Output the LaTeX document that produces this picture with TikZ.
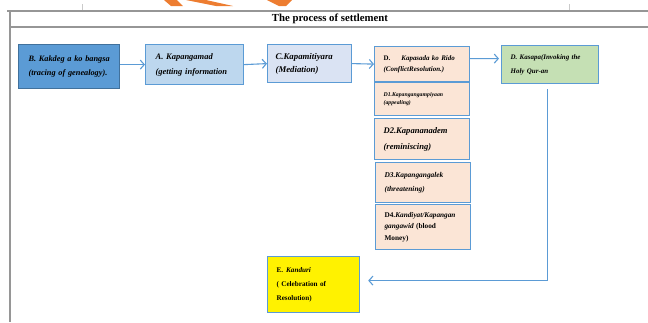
\documentclass[tikz,border=0pt]{standalone}
\usepackage{fontspec}
\setmainfont{Liberation Serif}
\usetikzlibrary{arrows.meta}
\definecolor{midblue}{RGB}{91,155,213}
\definecolor{darkblue}{RGB}{65,113,156}
\definecolor{paleblue}{RGB}{189,215,238}
\definecolor{lavender}{RGB}{218,227,243}
\definecolor{peach}{RGB}{251,229,214}
\definecolor{palegreen}{RGB}{197,224,180}
\definecolor{rulegrey}{RGB}{150,150,150}
\definecolor{accent}{RGB}{237,125,49}
\newcommand{\fs}[2]{\fontsize{#1}{#2}\selectfont}

\begin{document}
\begin{tikzpicture}[x=1bp, y=-1bp,
    stage/.style={draw=midblue, line width=1.2bp, anchor=north west, align=left,
        inner ysep=0pt, font=\bfseries\itshape},
    arr/.style={midblue, line width=1.1bp, -{Straight Barb[length=4bp,width=9bp]}}]
    \useasboundingbox (0,0) rectangle (648,322);
    % Table rules and header
    \fill[accent] (164,0) -- (177,0) -- (183,6) -- (171,6) -- cycle;
    \fill[accent] (186,0) -- (206,0) -- (233,6) -- (216,6) -- cycle;
    \fill[accent] (267,0) -- (292,0) -- (286,6) -- (279,6) -- cycle;
    \draw[rulegrey!50] (82,4) -- (82,11) (569,4) -- (569,11);
    \draw[rulegrey, line width=1.4bp] (7,11) -- (648,11);
    \draw[rulegrey, line width=1.4bp] (10,27) -- (648,27);
    \draw[rulegrey, line width=1.4bp] (10,11) -- (10,322);
    \node[font=\bfseries\fs{10.8}{12}] (title) at (330,19) {The process of settlement};
    % Main row
    \node[stage, draw=darkblue, fill=midblue, minimum width=101bp, minimum height=44bp,
        inner xsep=8bp, text width=85bp, font=\bfseries\itshape\fs{8.3}{14}]
        (b) at (18,44) {\hspace*{2bp}B. Kakdeg a ko bangsa\\\hspace*{2bp}(tracing of genealogy).};
    \node[stage, fill=paleblue, minimum width=98bp, minimum height=40bp,
        inner xsep=10bp, text width=78bp, font=\bfseries\itshape\fs{8.5}{15}]
        (a) at (145,44) {A. Kapangamad\\(getting information};
    \node[stage, fill=lavender, minimum width=84bp, minimum height=38bp,
        inner xsep=8bp, text width=68bp, font=\bfseries\itshape\fs{8.8}{13}]
        (c) at (267,44) {C.Kapamitiyara\\(Mediation)};
    \node[stage, fill=peach, minimum width=95bp, minimum height=35bp,
        inner xsep=9bp, text width=77bp, font=\bfseries\itshape\fs{7}{11}]
        (d) at (374,46) {\upshape D.\hspace{11bp}\itshape Kapasada ko Rido\\(ConflictResolution.)};
    \node[stage, fill=palegreen, minimum width=97bp, minimum height=38bp,
        inner xsep=9bp, text width=79bp, font=\bfseries\itshape\fs{7}{14}]
        (kasapa) at (501,45) {D. Kasapa(Invoking the\\Holy Qur-an};
    % Steps under D
    \node[stage, fill=peach, minimum width=95bp, minimum height=33bp,
        inner xsep=9bp, text width=77bp, font=\bfseries\itshape\fs{5.8}{9}]
        (d1) at (374,82) {D1.Kapangangampiyaan\\(appealing)};
    \node[stage, fill=peach, minimum width=95bp, minimum height=41bp,
        inner xsep=9bp, text width=77bp, font=\bfseries\itshape\fs{8.6}{16}]
        (d2) at (374,118) {D2.Kapananadem\\(reminiscing)};
    \node[stage, fill=peach, minimum width=95bp, minimum height=40bp,
        inner xsep=9bp, text width=77bp, font=\bfseries\itshape\fs{7.4}{14}]
        (d3) at (375,162) {D3.Kapangangalek\\(threatening)};
    \node[stage, fill=peach, minimum width=95bp, minimum height=45bp,
        inner xsep=9bp, text width=77bp, font=\bfseries\itshape\fs{7.3}{11.5}]
        (d4) at (375,204) {\upshape D4.\itshape Kandiyat/Kapangan\\gangawid \upshape(blood\\Money)};
    % Final step
    \node[stage, fill=yellow, minimum width=92bp, minimum height=56bp,
        inner xsep=9bp, text width=74bp, font=\bfseries\fs{7.2}{14}]
        (e) at (267,256) {E.\hspace{3bp}\itshape Kanduri\\\upshape( Celebration of\\Resolution)};
    % Connectors
    \draw[arr] (b.east |- a.west) -- (a.west);
    \draw[arr] (a.east) -- (c.west);
    \draw[arr] (c.east) -- (d.west);
    \draw[arr, shorten >=2bp] ([yshift=5.5bp]d.east) -- ([yshift=6bp]kasapa.west);
    \draw[arr] ([xshift=-2.5bp,yshift=-5bp]kasapa.south) |- ([xshift=8bp,yshift=4bp]e.east);
\end{tikzpicture}
\end{document}
